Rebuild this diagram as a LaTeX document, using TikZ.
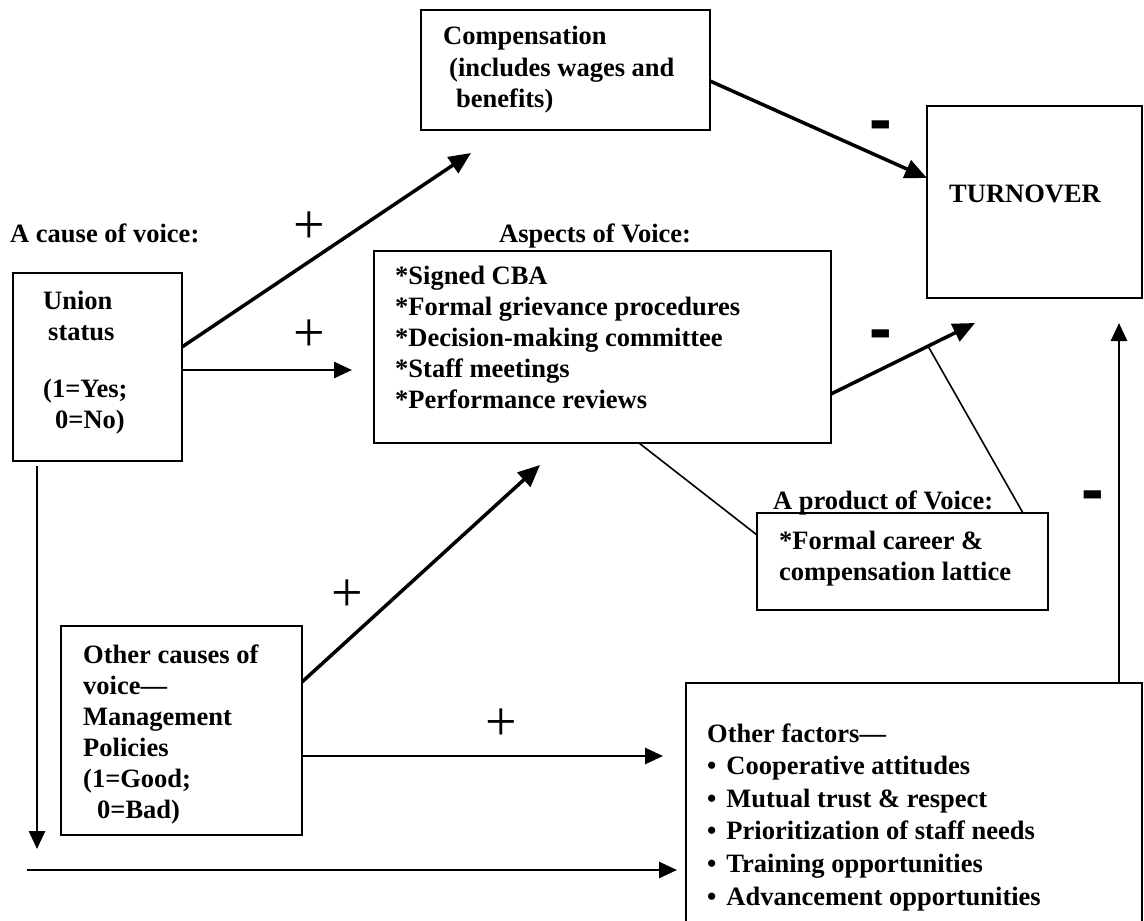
\documentclass[tikz,border=0pt]{standalone}
\usepackage{fontspec}
\setmainfont{Liberation Serif}
\newfontfamily\sansfam{Liberation Sans}
\usetikzlibrary{arrows.meta,calc}
\tikzset{
  txt/.style={font=\fontsize{26.5}{31}\selectfont\bfseries, inner sep=0pt, anchor=base west, align=left},
  box/.style={draw, line width=2pt, inner sep=0pt, outer sep=0pt, anchor=north west},
  bigarrow/.style={line width=3.5pt, -{Triangle[length=22pt,width=19pt]}},
  arr/.style={line width=2.8pt, -{Triangle[length=18pt,width=16pt]}},
  thinline/.style={line width=1.6pt},
  plussign/.style={font=\fontsize{56}{56}\selectfont, inner sep=0pt},
  minussign/.style={font=\sansfam\bfseries\fontsize{68}{68}\selectfont, inner sep=0pt, anchor=base, yshift=-17pt},
}
\begin{document}
\begin{tikzpicture}[x=1pt,y=-1pt]
\useasboundingbox (0,0) rectangle (1144,921);

% boxes
\node[box, minimum width=169pt, minimum height=188pt] (union) at (13,273) {};
\node[box, minimum width=289pt, minimum height=120pt] (comp) at (421,10) {};
\node[box, minimum width=215pt, minimum height=192pt] (turn) at (927,106) {};
\node[box, minimum width=457pt, minimum height=192pt] (aspects) at (374,251) {};
\node[box, minimum width=291pt, minimum height=97pt] (product) at (757,513) {};
\node[box, minimum width=241pt, minimum height=209pt] (causes) at (61,626) {};
\node[box, minimum width=456pt, minimum height=260pt] (factors) at (686,683) {};

% texts (multi-line nodes are placed by the baseline of their last line)
\node[txt] (causeLbl) at (10,242) {A cause of voice:};
\node[txt] (unionTxt) at (43,428) {Union\\\hspace*{5pt}status\\[26pt](1=Yes;\\\hspace*{12pt}0=No)};
\node[txt] (compTxt) at (443,107) {Compensation\\[1pt]\hspace*{6pt}(includes wages and\\\hspace*{13pt}benefits)};
\node[txt] (turnTxt) at (949,202) {TURNOVER};
\node[txt] (aspLbl) at (499,242) {Aspects of Voice:};
\node[txt] (aspTxt) at (395,408) {*Signed CBA\\*Formal grievance procedures\\*Decision-making committee\\*Staff meetings\\*Performance reviews};
\node[txt] (prodLbl) at (773,509) {A product of Voice:};
\node[txt] (prodTxt) at (779,580) {*Formal career \&\\compensation lattice};
\node[txt] (causesTxt) at (83,818) {Other causes of\\voice—\\Management\\Policies\\(1=Good;\\\hspace*{14pt}0=Bad)};
\node[txt, font=\fontsize{26.5}{32.6}\selectfont\bfseries] (factorsTxt) at (707,905) {Other factors—\\•\hspace{10pt}Cooperative attitudes\\•\hspace{10pt}Mutual trust \& respect\\•\hspace{10pt}Prioritization of staff needs\\•\hspace{10pt}Training opportunities\\•\hspace{10pt}Advancement opportunities};

% free ends
\coordinate (cTip) at (471,153);
\coordinate (aTip) at (352,370);
\coordinate (dTip) at (975,323);
\coordinate (gTip) at (540,465);
\coordinate (hTip) at (663,756);
\coordinate (downTip) at (37,849);
\coordinate (leftStart) at (27,870);
\coordinate (bTip) at (677,870);
\coordinate (upTip) at (1119,323);

% connectors
\draw[bigarrow] ([yshift=20pt]union.east) -- (cTip);
\draw[arr] ([yshift=-3pt]union.east) -- (aTip);
\draw[bigarrow] ([yshift=-11pt]comp.east) -- ([yshift=24pt]turn.west);
\draw[bigarrow] ([yshift=-47pt]aspects.east) -- coordinate[pos=0.674] (onArrow) (dTip);
\draw[thinline] ([xshift=120.5pt]product.north) -- (onArrow);
\draw[thinline] ([yshift=26.5pt]product.west) -- ([xshift=36.5pt]aspects.south);
\draw[bigarrow] ([yshift=48.5pt]causes.east) -- (gTip);
\draw[arr] ([yshift=-25.5pt]causes.east) -- (hTip);
\draw[arr] ([xshift=24pt,yshift=-5pt]union.south west) -- (downTip);
\draw[arr] (leftStart) -- (bTip);
\draw[arr] ([xshift=-23pt]factors.north east) -- (upTip);

% signs
\node[plussign] (p1) at (309,228) {+};
\node[plussign] (p2) at (309,336) {+};
\node[plussign] (p3) at (347,596) {+};
\node[plussign] (p4) at (501,725) {+};
\node[minussign] (m1) at (881,125) {-};
\node[minussign] (m2) at (881,334) {-};
\node[minussign] (m3) at (1093,495) {-};
\end{tikzpicture}
\end{document}
